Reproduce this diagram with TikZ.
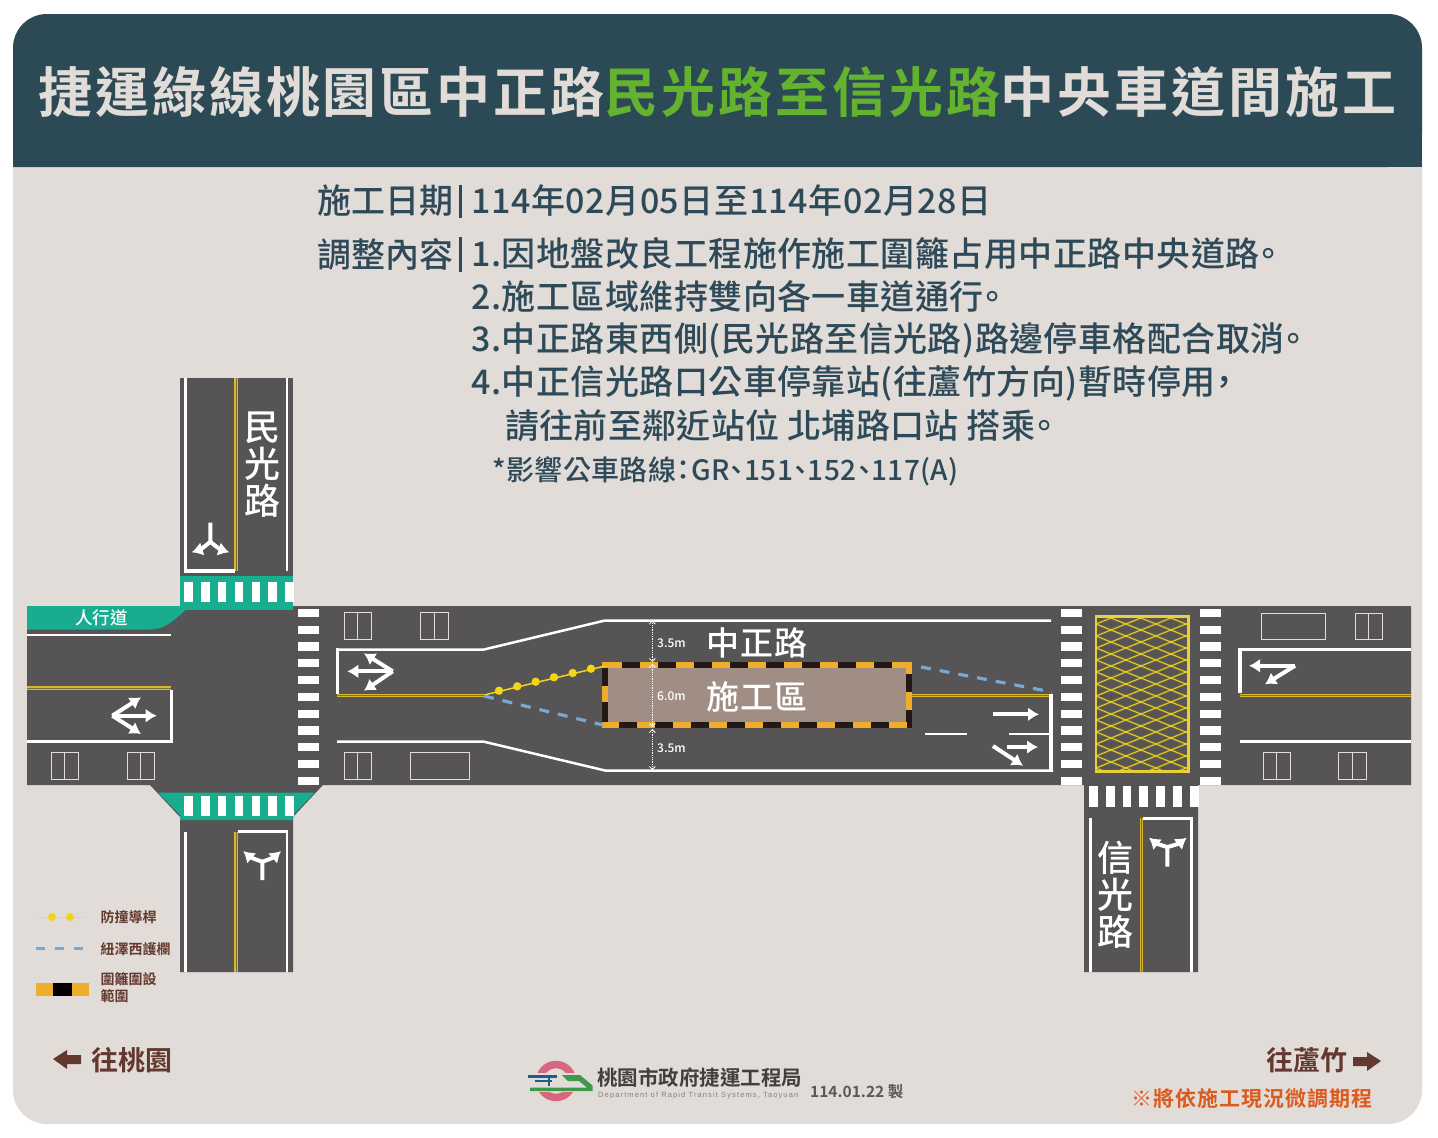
\documentclass[tikz,border=0pt]{standalone}
\usepackage{fontspec}
\setmainfont{Noto Sans CJK TC Medium}[BoldFont={Noto Sans CJK TC Bold},RawFeature=+palt]
\newfontfamily\enfont{Liberation Sans}
\newcommand{\fsize}[1]{\fontsize{#1}{#1}\selectfont}
\usetikzlibrary{arrows.meta}
\definecolor{banda}{HTML}{2C4A55}
\definecolor{fondo}{HTML}{E2DCD8}
\definecolor{asfalto}{HTML}{565455}
\definecolor{verde}{HTML}{17AD8E}
\definecolor{verdetit}{HTML}{63B32E}
\definecolor{amarillo}{HTML}{D6B72E}
\definecolor{oliva}{HTML}{7D7128}
\definecolor{malla}{HTML}{E8D03A}
\definecolor{naranja}{HTML}{EEAE2B}
\definecolor{poste}{HTML}{F3D516}
\definecolor{azul}{HTML}{75A8D2}
\definecolor{obra}{HTML}{A08D84}
\definecolor{valla}{HTML}{231815}
\definecolor{marron}{HTML}{63392F}
\definecolor{texto}{HTML}{2E4A58}
\definecolor{rosa}{HTML}{D9667F}
\definecolor{azultren}{HTML}{1F5C8B}
\definecolor{verdetren}{HTML}{3E9A4A}
\definecolor{aviso}{HTML}{DB5A1E}
\tikzset{
  linea/.style={draw=white, line width=2.5pt},
  tope/.style={draw=white, line width=3.5pt},
  doble/.style={draw=amarillo, line width=1.4pt, double=oliva, double distance=0.7pt},
  plaza/.style={draw=fondo, line width=1pt},
  flecha/.style={draw=white, line width=4pt, -{Latex[length=11pt,width=14pt]}},
  cuerpo/.style={anchor=west, text=texto, inner sep=0pt, font=\fsize{34}},
  leyenda/.style={anchor=west, text=marron, inner sep=0pt, font=\bfseries\fontsize{14}{17}\selectfont, align=left},
  rotulo/.style={text=white, inner sep=0pt, font=\fsize{33}},
  medida/.style={anchor=west, text=white, inner sep=0pt, font=\fsize{12}},
  cota/.style={draw=white, line width=0.8pt, densely dotted, {Straight Barb[length=3pt]}-{Straight Barb[length=3pt]}}
}
\begin{document}
\begin{tikzpicture}[x=1pt,y=-1pt]
  \useasboundingbox (0,0) rectangle (1438,1138);
  \fill[white] (0,0) rectangle (1438,1138);
  % Fondo y cabecera
  \fill[fondo, rounded corners=34pt] (13,14) rectangle (1422,1124);
  \fill[banda, rounded corners=34pt] (13,167) -- (13,14) -- (1422,14) -- (1422,167) [sharp corners] -- cycle;
  \fill[banda] (13,60) rectangle (1422,167);
  \node[anchor=west, inner sep=0pt, text=fondo, font=\bfseries\fsize{54}] (titulo) at (38,92)
    {\addfontfeature{LetterSpace=5.5}捷運綠線桃園區中正路\textcolor{verdetit}{民光路至信光路}中央車道間施工};
  % Texto
  \node[cuerpo] (fecharot) at (317,201) {施工日期};
  \fill[texto] (459,185) rectangle (462,218);
  \node[cuerpo] (fecha) at (471,201) {\addfontfeature{LetterSpace=1.65}114年02月05日至114年02月28日};
  \node[cuerpo] (ajusterot) at (317,254) {調整內容};
  \fill[texto] (459,237) rectangle (462,272);
  \node[cuerpo] (uno) at (471,254) {\addfontfeature{LetterSpace=1.4}1.因地盤改良工程施作施工圍籬占用中正路中央道路。};
  \node[cuerpo] (dos) at (471,296) {\addfontfeature{LetterSpace=1.4}2.施工區域維持雙向各一車道通行。};
  \node[cuerpo] (tres) at (471,340) {\addfontfeature{LetterSpace=1.4}3.中正路東西側(民光路至信光路)路邊停車格配合取消。};
  \node[cuerpo] (cuatro) at (471,383) {\addfontfeature{LetterSpace=1.4}4.中正信光路口公車停靠站(往蘆竹方向)暫時停用，};
  \node[cuerpo] (cinco) at (505,426) {\addfontfeature{LetterSpace=1}請往前至鄰近站位 北埔路口站 搭乘。};
  \node[cuerpo, font=\fsize{28}] (buses) at (492,471) {\addfontfeature{LetterSpace=1.5}*影響公車路線：GR、151、152、117(A)};
  % Calzadas
  \fill[asfalto] (27,606) -- (1411,606) -- (1411,785) -- (1198,785) -- (1198,972) -- (1084,972) -- (1084,785)
    -- (323,785) -- (293,817) -- (293,972) -- (180,972) -- (180,817) -- (150,785) -- (27,785) -- cycle;
  \fill[asfalto] (180,378) rectangle (293,610);
  % Zonas verdes
  \fill[verde] (180,576) rectangle (293,609.5);
  \fill[verde] (27,606) -- (181,606) -- (185,610.5) .. controls (172,622) and (165,629) .. (150,629.5) -- (27,629.5) -- cycle;
  \fill[verde] (158,792.5) -- (315,792.5) -- (293,815) -- (293,820) -- (180,820) -- (180,815) -- cycle;
  \node[inner sep=0pt, text=white, font=\fsize{17.5}] (acera) at (101.5,618) {人行道};
  % Pasos de peatones
  \foreach \i in {0,...,6} {
    \fill[white] (184.3+16.8*\i,582) rectangle ++(8.5,20);
    \fill[white] (184.3+16.8*\i,796) rectangle ++(8.5,20);
    \fill[white] (1089+16.8*\i,786) rectangle ++(8.7,21);
  }
  \foreach \i in {0,...,10} {
    \fill[white] (297.5,608.7+16.8*\i) rectangle ++(21,8.3);
    \fill[white] (1061.3,608.7+16.8*\i) rectangle ++(21,8.3);
    \fill[white] (1200.3,608.7+16.8*\i) rectangle ++(21,8.3);
  }
  % Plazas de aparcamiento
  \foreach \x/\y in {51/752.7,127/752.7,344/612.7,420.7/612.7,344/752.7,1355/613,1263/752.7,1338.3/752.7} {
    \draw[plaza] (\x,\y) rectangle ++(27.7,26.7);
    \draw[plaza] (\x+13.8,\y) -- ++(0,26.7);
  }
  \draw[plaza] (410.7,752.7) rectangle ++(58.6,26.7);
  \draw[plaza] (1261.7,613) rectangle ++(64,26.7);
  % Marcas del tramo oeste
  \draw[linea] (27,635) -- (171,635);
  \draw[doble] (27,688) -- (171,688);
  \draw[linea] (27,741.5) -- (173,741.5);
  \draw[tope] (171.5,690) -- (171.5,743);
  \draw[linea] (185.5,378) -- (185.5,571);
  \draw[linea] (287,378) -- (287,571);
  \draw[doble] (236,378) -- (236,571);
  \draw[tope] (184,571) -- (235,571);
  \draw[linea] (185.5,832) -- (185.5,972);
  \draw[linea] (287,830) -- (287,972);
  \draw[doble] (236,832) -- (236,972);
  \draw[tope] (237.5,831.5) -- (288,831.5);
  % Marcas del tramo central
  \draw[linea] (338,649.5) -- (484,649.5) -- (605,620.5) -- (1051,620.5);
  \draw[linea] (337,741.7) -- (484,741.7) -- (605,770.5) -- (1053,770.5);
  \draw[tope] (337.5,648) -- (337.5,694);
  \draw[doble] (337,695.5) -- (484,695.5);
  \draw[doble] (910,695.5) -- (1052,695.5);
  \draw[linea] (925,734) -- (967,734);
  \draw[linea] (1009,734) -- (1052,734);
  \draw[tope] (1051,694) -- (1051,771);
  % Tramo este
  \draw[linea] (1240,649.5) -- (1411,649.5);
  \draw[doble] (1240,695.7) -- (1411,695.7);
  \draw[linea] (1240,741.7) -- (1411,741.7);
  \draw[tope] (1240,648) -- (1240,693);
  \draw[linea] (1090.7,818) -- (1090.7,972);
  \draw[linea] (1191.7,818) -- (1191.7,972);
  \draw[doble] (1141.3,818) -- (1141.3,972);
  \draw[tope] (1142.7,818.3) -- (1193,818.3);
  % Cuadricula amarilla
  \begin{scope}
    \clip (1096,616.7) rectangle (1188.3,771.7);
    \foreach \col/\ancho in {oliva/2.4pt,malla/0.9pt} {
      \foreach \k in {-3,...,17} {
        \draw[draw=\col, line width=\ancho] (1096,600+12*\k) -- ++(92.3,37);
        \draw[draw=\col, line width=\ancho] (1096,612+12*\k) -- ++(92.3,-37);
      }
    }
  \end{scope}
  \draw[draw=malla, line width=2.5pt] (1096,616.7) rectangle (1188.3,771.7);
  % Flechas
  \draw[flecha] (210.3,522.7) -- (210.3,541.7) to[bend left=12] (191.7,552.3);
  \draw[flecha] (210.3,541.7) to[bend right=12] (229.3,552.3);
  \draw[flecha] (262.3,880) -- (262.3,861.7) to[bend left=12] (243.3,851);
  \draw[flecha] (262.3,861.7) to[bend right=12] (281,851);
  \draw[flecha] (1167.3,866.7) -- (1167.3,847) to[bend left=12] (1149,837.7);
  \draw[flecha] (1167.3,847) to[bend right=12] (1186.7,837.7);
  \draw[flecha] (112.3,715.7) -- (156.7,715.7);
  \draw[flecha] (112.3,715.7) -- (141,697.3);
  \draw[flecha] (112.3,715.7) -- (141,734);
  \draw[flecha] (392.7,671.3) -- (347.3,671.3);
  \draw[flecha] (392.7,671.3) -- (364,653.3);
  \draw[flecha] (392.7,671.3) -- (364,690.7);
  \draw[flecha] (1295,665.7) -- (1249,665.7);
  \draw[flecha] (1295,665.7) -- (1265,684.3);
  \draw[flecha] (993,714.3) -- (1039,714.3);
  \draw[flecha] (1007,747) -- (1038,747);
  \draw[flecha] (993,746) -- (1023,765.7);
  % Zona de obra
  \fill[obra] (605,665) rectangle (909,725);
  \draw[draw=valla, line width=6pt] (605,665) rectangle (909,725);
  \begin{scope}[draw=naranja, line width=6pt, dash pattern=on 18pt off 18pt]
    \draw[solid] (602,665) -- (604,665);
    \draw (604,665) -- (912,665);
    \draw[dash phase=1pt] (602,725) -- (912,725);
    \draw[solid] (605,685.7) -- (605,702.3);
    \draw[dash phase=6pt] (909,662) -- (909,728);
  \end{scope}
  % Barreras
  \draw[draw=poste, line width=1.5pt] (484,695) -- (605,666);
  \foreach \x/\y in {499/690.7,517.3/686.3,535.7/681.7,554/677.3,572.7/673,591/668.7}
    \fill[poste] (\x,\y) circle (4.2);
  \draw[draw=azul, line width=3.2pt, dash pattern=on 10pt off 9pt] (484,696) -- (603,725);
  \draw[draw=azul, line width=3.2pt, dash pattern=on 10pt off 9pt] (921,667) -- (1052,692);
  % Cotas
  \draw[cota] (652.3,620.5) -- (652.3,662);
  \draw[cota] (652.3,664) -- (652.3,727);
  \draw[cota] (652.3,729) -- (652.3,770);
  \node[medida] (cotaa) at (657,643) {3.5m};
  \node[medida] (cotab) at (657,696) {6.0m};
  \node[medida] (cotac) at (657,748) {3.5m};
  % Rotulos de calles
  \node[rotulo] (chung) at (757,643) {\addfontfeature{LetterSpace=2}中正路};
  \node[rotulo] (zona) at (757,697) {\addfontfeature{LetterSpace=2}施工區};
  \node[rotulo, align=center, font=\fontsize{36}{37}\selectfont] (minkuang) at (262.3,465) {民\\光\\路};
  \node[rotulo, align=center, font=\fontsize{36}{37}\selectfont] (hsinkuang) at (1115.7,895) {信\\光\\路};
  % Leyenda
  \draw[draw=poste!60!fondo, line width=1pt] (37,917) -- (84,917);
  \fill[poste] (52,917) circle (4);
  \fill[poste] (70,917) circle (4);
  \draw[draw=azul, line width=3pt, dash pattern=on 9pt off 10pt] (36,948.5) -- (86,948.5);
  \fill[naranja] (35.5,983) rectangle (88.5,996);
  \fill[black] (53,983) rectangle (71.5,996);
  \node[leyenda] (leyposte) at (100.5,917) {防撞導桿};
  \node[leyenda] (leybarrera) at (100.5,949) {紐澤西護欄};
  \node[leyenda] (leyvalla) at (100.5,987.5) {圍籬圍設\\範圍};
  % Direcciones
  \fill[marron] (53,1059) -- (67,1050) -- (67,1055) -- (81,1055) -- (81,1064) -- (67,1064) -- (67,1069) -- cycle;
  \fill[marron] (1381,1061) -- (1367,1052) -- (1367,1057) -- (1353,1057) -- (1353,1066) -- (1367,1066) -- (1367,1071) -- cycle;
  \node[anchor=west, inner sep=0pt, text=marron, font=\bfseries\fsize{27}] (oeste) at (91,1060) {往桃園};
  \node[anchor=east, inner sep=0pt, text=marron, font=\bfseries\fsize{27}] (este) at (1348,1060) {往蘆竹};
  \node[anchor=east, inner sep=0pt, text=aviso, font=\bfseries\fsize{21}] (nota) at (1373,1099) {\addfontfeature{LetterSpace=5}※將依施工現況微調期程};
  % Logotipo
  \draw[draw=rosa, line width=7.5pt] (556,1081) circle (16.5);
  \fill[fondo] (526,1073) rectangle (594,1092);
  \draw[draw=azultren, line width=3pt] (528,1076) -- (557,1076);
  \draw[draw=azultren, line width=2pt] (535,1081) -- (552,1081);
  \draw[draw=azultren, line width=2.5pt] (549,1077) -- (549,1086);
  \fill[verdetren] (562,1075) -- (580,1075) -- (592.5,1085.5) -- (592.5,1091) -- (530,1091) -- (530,1087.5) -- (587,1087.5) -- (579,1081) -- (568,1081) -- cycle;
  \node[anchor=west, inner sep=0pt, text=black!75, font=\bfseries\fsize{20.5}] (oficina) at (597,1078) {桃園市政府捷運工程局};
  \node[anchor=west, inner sep=0pt, text=black!50, font=\enfont\fsize{7.5}] (oficinaen) at (598,1096) {\addfontfeature{LetterSpace=15}Department of Rapid Transit Systems, Taoyuan};
  \node[anchor=west, inner sep=0pt, text=black!65, font=\bfseries\fsize{15.5}] (edicion) at (810,1092) {114.01.22 製};
\end{tikzpicture}
\end{document}
